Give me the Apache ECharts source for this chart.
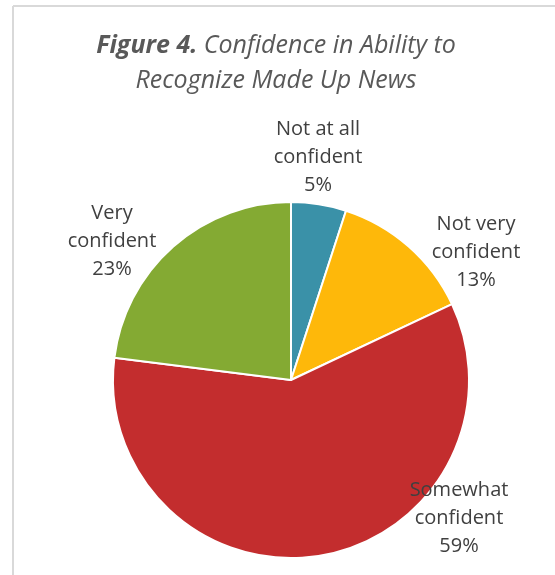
<!DOCTYPE html>
<html><head><meta charset="utf-8">
<script src="https://cdn.jsdelivr.net/npm/echarts@6/dist/echarts.min.js"></script>
<style>html,body{margin:0;padding:0;background:#fff}#c{width:555px;height:575px}</style>
</head><body><div id="c"></div>
<script>
const categories = ['Not at all\nconfident', 'Not very\nconfident', 'Somewhat\nconfident', 'Very\nconfident'];
const values = [5, 13, 59, 23];
const colors = ['#3A91A8', '#FEB80A', '#C32D2E', '#84AA33'];
const labelPos = [[318, 157], [476, 252], [459, 518], [112, 241]];

const chart = echarts.init(document.getElementById('c'));
chart.setOption({
  animation: false,
  title: {
    text: '{b|Figure 4.} Confidence in Ability to\nRecognize Made Up News',
    left: 271, top: 23, textAlign: 'center',
    textStyle: {
      fontFamily: 'Open Sans', fontStyle: 'italic', fontWeight: 'normal',
      fontSize: 25, color: '#595959', lineHeight: 35,
      rich: { b: { fontFamily: 'Open Sans', fontStyle: 'italic', fontWeight: 'bold', fontSize: 25, color: '#595959', lineHeight: 35 } }
    }
  },
  graphic: [
    { type: 'line', shape: { x1: 13, y1: 6, x2: 560, y2: 6 }, style: { stroke: '#d9d9d9', lineWidth: 2 } },
    { type: 'line', shape: { x1: 13, y1: 6, x2: 13, y2: 580 }, style: { stroke: '#d9d9d9', lineWidth: 2 } }
  ],
  series: [{
    type: 'pie',
    center: [291, 380],
    radius: 178,
    startAngle: 90,
    clockwise: true,
    data: categories.map((c, i) => ({ name: c, value: values[i], itemStyle: { color: colors[i] } })),
    itemStyle: { borderColor: '#fff', borderWidth: 2 },
    label: {
      show: true, position: 'outside', overflow: 'none',
      formatter: p => p.name + '\n' + p.value + '%',
      fontFamily: 'Open Sans', fontSize: 20, color: '#404040', lineHeight: 28, align: 'center'
    },
    labelLine: { show: false },
    labelLayout: p => ({ x: labelPos[p.dataIndex][0], y: labelPos[p.dataIndex][1], align: 'center', verticalAlign: 'middle' }),
    emphasis: { disabled: true }
  }]
});
</script></body></html>
